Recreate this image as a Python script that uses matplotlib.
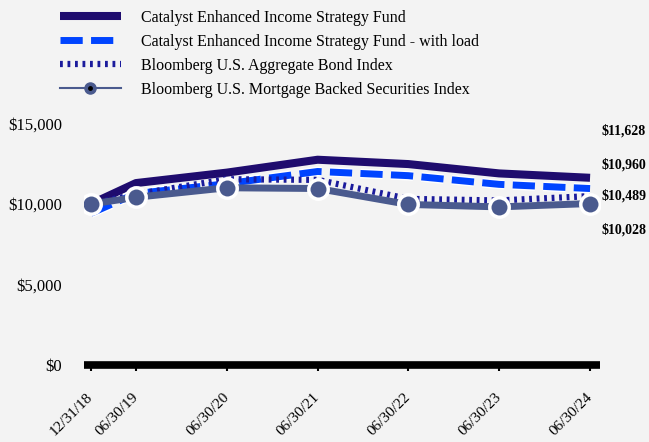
import numpy as np
import pandas as pd
import matplotlib
matplotlib.use('Agg')
import matplotlib.pyplot as plt
import matplotlib.dates as mdates
import matplotlib.patheffects as pe
from matplotlib.lines import Line2D

plt.rcParams['font.family'] = ['Liberation Serif', 'DejaVu Serif']

dates = pd.to_datetime(['2018-12-31', '2019-06-30', '2020-06-30', '2021-06-30',
                        '2022-06-30', '2023-06-30', '2024-06-30'])
date_labels = ['12/31/18', '06/30/19', '06/30/20', '06/30/21', '06/30/22', '06/30/23', '06/30/24']

fund = [10000, 11300, 11950, 12750, 12480, 11900, 11628]
fund_load = [9425, 10650, 11260, 12020, 11760, 11220, 10960]
agg_bond = [10000, 10611, 11538, 11500, 10317, 10220, 10489]
mbs = [10000, 10417, 11008, 10962, 9972, 9820, 10028]

names = ['Catalyst Enhanced Income Strategy Fund',
         'Catalyst Enhanced Income Strategy Fund - with load',
         'Bloomberg U.S. Aggregate Bond Index',
         'Bloomberg U.S. Mortgage Backed Securities Index']
end_labels = ['$11,628', '$10,960', '$10,489', '$10,028']

bg = '#f3f3f3'
c_fund = '#1f0c6e'
c_load = '#0044ff'
c_agg = '#1b1b9c'
c_mbs = '#4a5a8e'

fig = plt.figure(figsize=(6.49, 4.42), dpi=100, facecolor=bg)
ax = fig.add_axes([84 / 649, 1 - 365 / 442, 516 / 649, 257.6 / 442], facecolor=bg)

white = [pe.Stroke(linewidth=7, foreground='white'), pe.Normal()]

ax.plot(dates, fund, color=c_fund, lw=5.8, solid_capstyle='butt', zorder=2)
ax.plot(dates, fund_load, color=c_load, lw=5, dashes=(3.2, 1.2),
        dash_capstyle='butt', path_effects=white, zorder=3)
ax.plot(dates, agg_bond, color=c_agg, lw=4.5, dashes=(0.45, 0.75),
        dash_capstyle='butt', zorder=4)
ax.plot(dates, mbs, color=c_mbs, lw=5, marker='o', markersize=14,
        markerfacecolor=c_mbs, markeredgecolor='white', markeredgewidth=2.5, zorder=5)

ax.set_ylim(0, 16000)
ax.set_xlim(dates[0] - pd.Timedelta(days=28), dates[-1] + pd.Timedelta(days=40))
ax.set_yticks([0, 5000, 10000, 15000])
ax.set_yticklabels(['$0', '$5,000', '$10,000', '$15,000'], fontsize=12)
ax.tick_params(axis='y', length=0, pad=16)
ax.set_xticks(dates)
ax.set_xticklabels(date_labels, fontsize=11, rotation=45, ha='right',
                   va='center', rotation_mode='anchor')
ax.tick_params(axis='x', length=4, width=1.5, pad=18, color='black')

for s in ['top', 'right', 'left']:
    ax.spines[s].set_visible(False)
ax.spines['bottom'].set_linewidth(5.5)
ax.spines['bottom'].set_color('black')
ax.spines['bottom'].set_capstyle('butt')

label_y = [131, 165, 196, 230]
for txt, yp in zip(end_labels, label_y):
    fig.text(601 / 649, 1 - yp / 442, txt, fontsize=10, fontweight='bold',
             ha='left', va='center')

handles = [
    Line2D([], [], color=c_fund, lw=5.8, solid_capstyle='butt'),
    Line2D([], [], color=c_load, lw=5, dashes=(3.2, 1.2), dash_capstyle='butt'),
    Line2D([], [], color=c_agg, lw=4.5, dashes=(0.45, 0.75), dash_capstyle='butt'),
    (Line2D([], [], color=c_mbs, lw=1.5, marker='o', markersize=8,
            markerfacecolor=c_mbs, markeredgecolor=c_mbs),
     Line2D([], [], color='none', marker='o', markersize=2.5,
            markerfacecolor='black', markeredgecolor='black')),
]
fig.legend(handles, names, loc='upper left', bbox_to_anchor=(60 / 649, 1 - 10 / 442),
           frameon=False, fontsize=11.5, handlelength=3.8, handletextpad=1.3,
           labelspacing=0.5, borderpad=0, borderaxespad=0)

fig.savefig('out.png', dpi=100, facecolor=bg)
plt.close(fig)
